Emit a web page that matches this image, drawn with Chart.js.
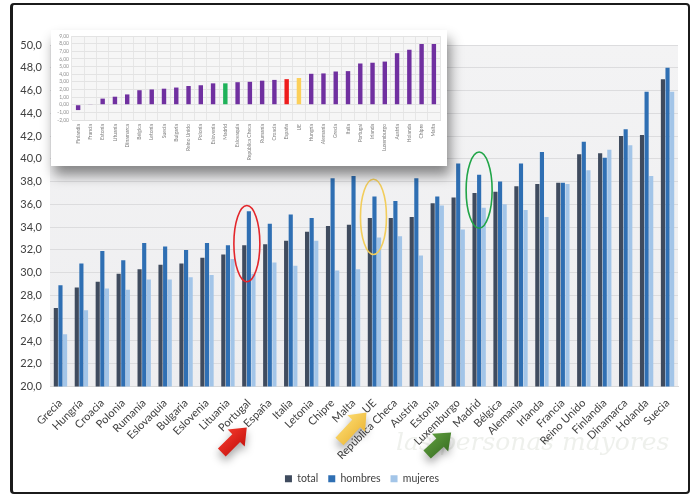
<!DOCTYPE html>
<html><head><meta charset="utf-8">
<script src="https://cdn.jsdelivr.net/npm/chart.js@4.4.1/dist/chart.umd.min.js"></script>
<style>
html,body{margin:0;padding:0;background:#fff;}
#wrap{position:relative;width:694px;height:496px;overflow:hidden;background:#fff;}
#main{position:absolute;left:0;top:0;}
#frame{position:absolute;left:10px;top:3px;width:675px;height:487px;border:2px solid #1b1b1b;border-left-width:3px;border-radius:4px;pointer-events:none;}
#insetBox{position:absolute;left:51px;top:30px;width:396px;height:136px;background:#fff;box-shadow:3px 9px 12px rgba(0,0,0,0.45);}
#inset{position:absolute;left:0;top:0;}
</style></head>
<body>
<div id="wrap">
<canvas id="main" width="694" height="496"></canvas>
<div id="insetBox"><canvas id="inset" width="396" height="136"></canvas></div>
<div id="frame"></div>
</div>
<script>
const categories = ['Grecia','Hungría','Croacia','Polonia','Rumanía','Eslovaquia','Bulgaria','Eslovenia','Lituania','Portugal','España','Italia','Letonia','Chipre','Malta','UE','República Checa','Austria','Estonia','Luxemburgo','Madrid','Bélgica','Alemania','Irlanda','Francia','Reino Unido','Finlandia','Dinamarca','Holanda','Suecia'];
const total   = [26.9,28.7,29.2,29.9,30.3,30.7,30.8,31.3,31.6,32.4,32.5,32.8,33.6,34.1,34.2,34.8,34.8,34.9,36.1,36.6,37.0,37.1,37.6,37.8,37.9,40.4,40.5,42.0,42.1,47.0];
const hombres = [28.9,30.8,31.9,31.1,32.6,32.3,32.0,32.6,32.4,35.4,34.3,35.1,34.8,38.3,38.5,36.7,36.3,38.3,36.7,39.6,38.6,38.0,39.6,40.6,37.9,41.5,40.1,42.6,45.9,48.0];
const mujeres = [24.6,26.7,28.6,28.5,29.4,29.4,29.6,29.8,31.2,29.9,30.9,30.6,32.8,30.2,30.3,33.1,33.2,31.5,35.9,33.8,35.7,36.0,35.5,34.9,37.8,39.0,40.8,41.2,38.5,45.9];
const seriesNames = ['total','hombres','mujeres'];

const gapCategories = ['Finlandia','Francia','Estonia','Lituania','Dinamarca','Bélgica','Letonia','Suecia','Bulgaria','Reino Unido','Polonia','Eslovenia','Madrid','Eslovaquia','República Checa','Rumanía','Croacia','España','UE','Hungría','Alemania','Grecia','Italia','Portugal','Irlanda','Luxemburgo','Austria','Holanda','Chipre','Malta'];
const gap = [-0.7,0.05,0.8,1.05,1.35,1.9,2.0,2.1,2.25,2.45,2.55,2.8,2.8,2.95,3.0,3.15,3.25,3.35,3.5,4.05,4.1,4.35,4.4,5.4,5.5,5.65,6.75,7.2,7.95,7.95];

const FONT = 'Lato, "Open Sans", sans-serif';

function drawArrow(ctx, x1, y1, x2, y2, color, dark) {
  const ang = Math.atan2(y2 - y1, x2 - x1);
  const L = Math.hypot(x2 - x1, y2 - y1);
  const sw = 11, hw = 24, hl = 15;
  ctx.save();
  ctx.translate(x1, y1);
  ctx.rotate(ang);
  ctx.shadowColor = 'rgba(0,0,0,0.35)';
  ctx.shadowBlur = 8;
  ctx.shadowOffsetY = 5;
  const g = ctx.createLinearGradient(0, -hw/2, 0, hw/2);
  g.addColorStop(0, color); g.addColorStop(1, dark);
  ctx.fillStyle = g;
  ctx.beginPath();
  ctx.moveTo(0, -sw/2);
  ctx.lineTo(L - hl, -sw/2);
  ctx.lineTo(L - hl, -hw/2);
  ctx.lineTo(L, 0);
  ctx.lineTo(L - hl, hw/2);
  ctx.lineTo(L - hl, sw/2);
  ctx.lineTo(0, sw/2);
  ctx.closePath();
  ctx.fill();
  ctx.restore();
}

const decor = {
  id: 'decor',
  afterLayout(chart) {
    if (chart.legend) { chart.legend.left += 15; chart.legend.right += 15; }
  },
  beforeDraw(chart) {
    const {ctx, chartArea: a} = chart;
    ctx.save();
    const g = ctx.createLinearGradient(0, a.top, 0, a.bottom);
    g.addColorStop(0, '#f3f3f4'); g.addColorStop(1, '#eeeef0');
    ctx.fillStyle = g;
    ctx.fillRect(a.left, a.top, a.right - a.left, a.bottom - a.top);
    ctx.font = 'italic 25px "DejaVu Serif", serif';
    ctx.fillStyle = 'rgba(150,160,135,0.16)';
    ctx.fillText('las personas mayores', 396, 443);
    ctx.restore();
  },
  afterDatasetsDraw(chart) {
    const {ctx} = chart;
    const x = chart.scales.x, y = chart.scales.y;
    const ell = [[9, -2, 29.2, 35.9, '#e3262b'], [15, -1, 31.6, 38.2, '#f2cd5c'], [20, 0, 33.9, 40.6, '#21a548']];
    ctx.save();
    ctx.lineWidth = 1.6;
    ell.forEach(([i, dx, lo, hi, c]) => {
      const cx = x.getPixelForValue(i) + dx;
      const y1 = y.getPixelForValue(hi), y2 = y.getPixelForValue(lo);
      ctx.strokeStyle = c;
      ctx.beginPath();
      ctx.ellipse(cx, (y1 + y2) / 2, 13, (y2 - y1) / 2, 0, 0, Math.PI * 2);
      ctx.stroke();
    });
    ctx.restore();
  },
  afterDraw(chart) {
    const {ctx} = chart;
    const x = chart.scales.x, b = chart.chartArea.bottom;
    const px = i => x.getPixelForValue(i);
    drawArrow(ctx, px(10) - 48, b + 66, px(10) - 23, b + 41, '#f0362a', '#c8140f');
    drawArrow(ctx, px(15) - 35, b + 55, px(15) - 8, b + 26, '#fbd86b', '#ecb83a');
    drawArrow(ctx, px(20) - 52, b + 68, px(20) - 28, b + 46, '#5c9a3c', '#3b7224');
  }
};

new Chart(document.getElementById('main'), {
  type: 'bar',
  data: {
    labels: categories,
    datasets: [
      {label: seriesNames[0], data: total, backgroundColor: '#3f4b5e'},
      {label: seriesNames[1], data: hombres, backgroundColor: '#2f6fb3'},
      {label: seriesNames[2], data: mujeres, backgroundColor: '#a3c5e8'}
    ]
  },
  options: {
    responsive: false,
    animation: false,
    devicePixelRatio: 1,
    layout: {padding: {left: 16, right: 16, top: 45, bottom: 2}},
    datasets: {bar: {barPercentage: 0.9, categoryPercentage: 0.66}},
    plugins: {
      legend: {
        position: 'bottom',
        labels: {boxWidth: 7, boxHeight: 7, padding: 10, color: '#404040', font: {family: FONT, size: 10.5}}
      },
      tooltip: {enabled: false}
    },
    scales: {
      x: {
        grid: {display: false},
        border: {color: '#d9d9d9'},
        ticks: {minRotation: 45, maxRotation: 45, autoSkip: false, color: '#404040', padding: 2, font: {family: FONT, size: 11}},
        afterFit(s) { s.height = 77; }
      },
      y: {
        min: 20, max: 50,
        grid: {color: '#dcdcde', drawTicks: false},
        border: {display: false},
        ticks: {stepSize: 2, color: '#404040', padding: 8, font: {family: FONT, size: 11},
          callback: v => v.toFixed(1).replace('.', ',')},
        afterFit(s) { s.width = 34; }
      }
    }
  },
  plugins: [decor]
});

const insetBg = {
  id: 'insetBg',
  beforeDraw(chart) {
    const {ctx, chartArea: a} = chart;
    ctx.save();
    ctx.fillStyle = '#f6f6f6';
    ctx.fillRect(a.left, a.top, a.right - a.left, a.bottom - a.top);
    ctx.restore();
  }
};

const gapColors = gapCategories.map(c => c === 'Madrid' ? '#1fb25a' : c === 'España' ? '#ee1c1c' : c === 'UE' ? '#fcd05a' : '#7030a0');

new Chart(document.getElementById('inset'), {
  type: 'bar',
  data: {labels: gapCategories, datasets: [{data: gap, backgroundColor: gapColors, barPercentage: 0.36, categoryPercentage: 1}]},
  options: {
    responsive: false,
    animation: false,
    devicePixelRatio: 1,
    layout: {padding: {left: 0, right: 7, top: 6, bottom: 0}},
    plugins: {legend: {display: false}, tooltip: {enabled: false}},
    scales: {
      x: {
        grid: {color: '#e6e6e6', offset: true, drawTicks: false},
        border: {color: '#e0e0e0'},
        ticks: {minRotation: 90, maxRotation: 90, autoSkip: false, color: '#808080', padding: 4, font: {family: FONT, size: 5}},
        afterFit(s) { s.height = 46; }
      },
      y: {
        min: -2, max: 9,
        grid: {color: '#e3e3e3', drawTicks: false},
        border: {display: false},
        ticks: {stepSize: 1, autoSkip: false, color: '#909090', padding: 3, font: {family: FONT, size: 5},
          callback: v => v.toFixed(2).replace('.', ',')},
        afterFit(s) { s.width = 21; }
      }
    }
  },
  plugins: [insetBg]
});
</script>
</body></html>
